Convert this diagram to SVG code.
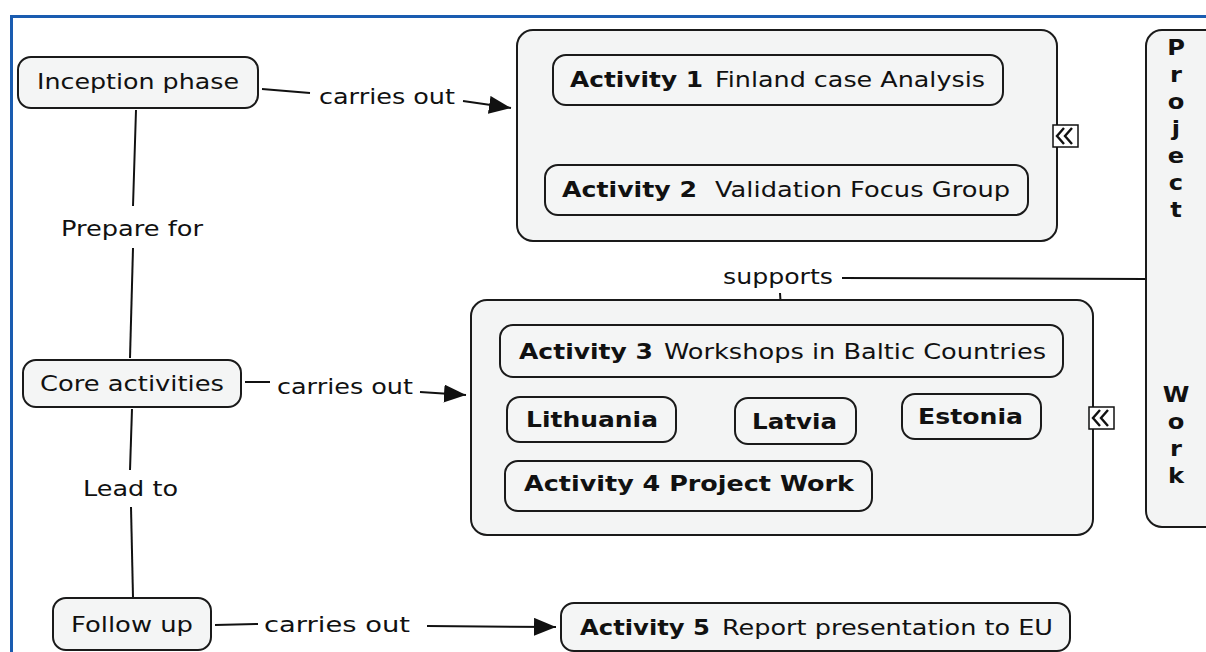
<svg xmlns="http://www.w3.org/2000/svg" width="1206" height="652" viewBox="0 0 1206 652">
<defs>
<style>
.bg{fill:#ffffff}
.frame{fill:none;stroke:#1a5cb0;stroke-width:3}
.node{fill:#f4f5f5;stroke:#1a1a1a;stroke-width:2}
.grp{fill:#f3f4f4;stroke:#1a1a1a;stroke-width:2}
.t{font-family:"DejaVu Sans","Verdana",sans-serif;font-size:22px;fill:#111}
.b{font-weight:bold}
.ln{fill:none;stroke:#111;stroke-width:2}
.icon{fill:#ffffff;stroke:#111;stroke-width:1.5}
.chev{fill:none;stroke:#111;stroke-width:2.4}
.pw{font-family:"DejaVu Sans","Verdana",sans-serif;font-size:21px;font-weight:bold;fill:#111;text-anchor:middle}
</style>
<marker id="arr" viewBox="0 0 22 18" refX="22" refY="9" markerWidth="22" markerHeight="18" markerUnits="userSpaceOnUse" orient="auto">
<path d="M0,0 L22,9 L0,18 Z" fill="#111"/>
</marker>
</defs>
<rect class="bg" x="0" y="0" width="1206" height="652"/>
<rect class="frame" x="11.5" y="16.5" width="1210" height="650"/>

<g id="connectors">
<path class="ln" d="M262,89 L310,93"/>
<text class="t" x="319" y="104" textLength="136" lengthAdjust="spacingAndGlyphs">carries out</text>
<path class="ln" d="M463,101 L511,108" marker-end="url(#arr)"/>
<path class="ln" d="M245,382 L270,382"/>
<text class="t" x="277" y="394" textLength="136" lengthAdjust="spacingAndGlyphs">carries out</text>
<path class="ln" d="M420,392 L466,395" marker-end="url(#arr)"/>
<path class="ln" d="M215,625 L258,624"/>
<text class="t" x="264" y="632" textLength="146" lengthAdjust="spacingAndGlyphs">carries out</text>
<path class="ln" d="M427,626 L556,627" marker-end="url(#arr)"/>
<path class="ln" d="M136,110 L133,206"/>
<text class="t" x="61" y="236" textLength="142" lengthAdjust="spacingAndGlyphs">Prepare for</text>
<path class="ln" d="M133,248 L130,358"/>
<path class="ln" d="M132,409 L130,470"/>
<text class="t" x="83" y="496" textLength="95" lengthAdjust="spacingAndGlyphs">Lead to</text>
<path class="ln" d="M131,507 L133,597"/>
<text class="t" x="723" y="284" textLength="110" lengthAdjust="spacingAndGlyphs">supports</text>
<path class="ln" d="M842,278 L1145,279"/>
<path class="ln" d="M780,293 L782,325"/>
</g>

<g id="group1">
<rect class="grp" x="517" y="30" width="540" height="211" rx="16"/>
<rect class="icon" x="1053" y="125" width="25" height="22"/>
<path class="chev" d="M1064,128 L1057,136 L1064,144 M1072,128 L1065,136 L1072,144"/>
</g>
<g id="activity1">
<rect class="node" x="553" y="55" width="450" height="50" rx="13"/>
<text class="t b" x="570" y="87" textLength="133" lengthAdjust="spacingAndGlyphs">Activity 1</text>
<text class="t" x="715" y="87" textLength="270" lengthAdjust="spacingAndGlyphs">Finland case Analysis</text>
</g>
<g id="activity2">
<rect class="node" x="545" y="165" width="483" height="50" rx="13"/>
<text class="t b" x="562" y="197" textLength="135" lengthAdjust="spacingAndGlyphs">Activity 2</text>
<text class="t" x="715" y="197" textLength="295" lengthAdjust="spacingAndGlyphs">Validation Focus Group</text>
</g>

<g id="group2">
<rect class="grp" x="471" y="300" width="622" height="235" rx="16"/>
<rect class="icon" x="1089" y="407" width="25" height="22"/>
<path class="chev" d="M1100,410 L1093,418 L1100,426 M1108,410 L1101,418 L1108,426"/>
</g>
<g id="activity3">
<rect class="node" x="500" y="325" width="563" height="52" rx="13"/>
<text class="t b" x="519" y="359" textLength="134" lengthAdjust="spacingAndGlyphs">Activity 3</text>
<text class="t" x="664" y="359" textLength="382" lengthAdjust="spacingAndGlyphs">Workshops in Baltic Countries</text>
</g>
<g id="lithuania">
<rect class="node" x="507" y="397" width="169" height="45" rx="13"/>
<text class="t b" x="526" y="427" textLength="132" lengthAdjust="spacingAndGlyphs">Lithuania</text>
</g>
<g id="latvia">
<rect class="node" x="735" y="398" width="121" height="46" rx="13"/>
<text class="t b" x="752" y="429" textLength="85" lengthAdjust="spacingAndGlyphs">Latvia</text>
</g>
<g id="estonia">
<rect class="node" x="902" y="394" width="139" height="45" rx="13"/>
<text class="t b" x="918" y="424" textLength="105" lengthAdjust="spacingAndGlyphs">Estonia</text>
</g>
<g id="activity4">
<rect class="node" x="505" y="461" width="367" height="50" rx="13"/>
<text class="t b" x="524" y="491" textLength="330" lengthAdjust="spacingAndGlyphs">Activity 4 Project Work</text>
</g>

<g id="projectwork">
<rect class="grp" x="1146" y="30" width="80" height="497" rx="16"/>
<g transform="translate(1176,0) scale(1.15,1)">
<text class="pw" x="0" y="55">P</text>
<text class="pw" x="0" y="82">r</text>
<text class="pw" x="0" y="109">o</text>
<text class="pw" x="0" y="136">j</text>
<text class="pw" x="0" y="163">e</text>
<text class="pw" x="0" y="190">c</text>
<text class="pw" x="0" y="217">t</text>
<text class="pw" x="0" y="402">W</text>
<text class="pw" x="0" y="429">o</text>
<text class="pw" x="0" y="456">r</text>
<text class="pw" x="0" y="483">k</text>
</g>
</g>

<g id="inception">
<rect class="node" x="18" y="57" width="240" height="51" rx="13"/>
<text class="t" x="37" y="89" textLength="202" lengthAdjust="spacingAndGlyphs">Inception phase</text>
</g>
<g id="core">
<rect class="node" x="23" y="360" width="218" height="47" rx="13"/>
<text class="t" x="40" y="391" textLength="184" lengthAdjust="spacingAndGlyphs">Core activities</text>
</g>
<g id="followup">
<rect class="node" x="53" y="598" width="158" height="52" rx="13"/>
<text class="t" x="71" y="632" textLength="122" lengthAdjust="spacingAndGlyphs">Follow up</text>
</g>
<g id="activity5">
<rect class="node" x="561" y="603" width="509" height="48" rx="13"/>
<text class="t b" x="580" y="635" textLength="130" lengthAdjust="spacingAndGlyphs">Activity 5</text>
<text class="t" x="722" y="635" textLength="331" lengthAdjust="spacingAndGlyphs">Report presentation to EU</text>
</g>
</svg>
